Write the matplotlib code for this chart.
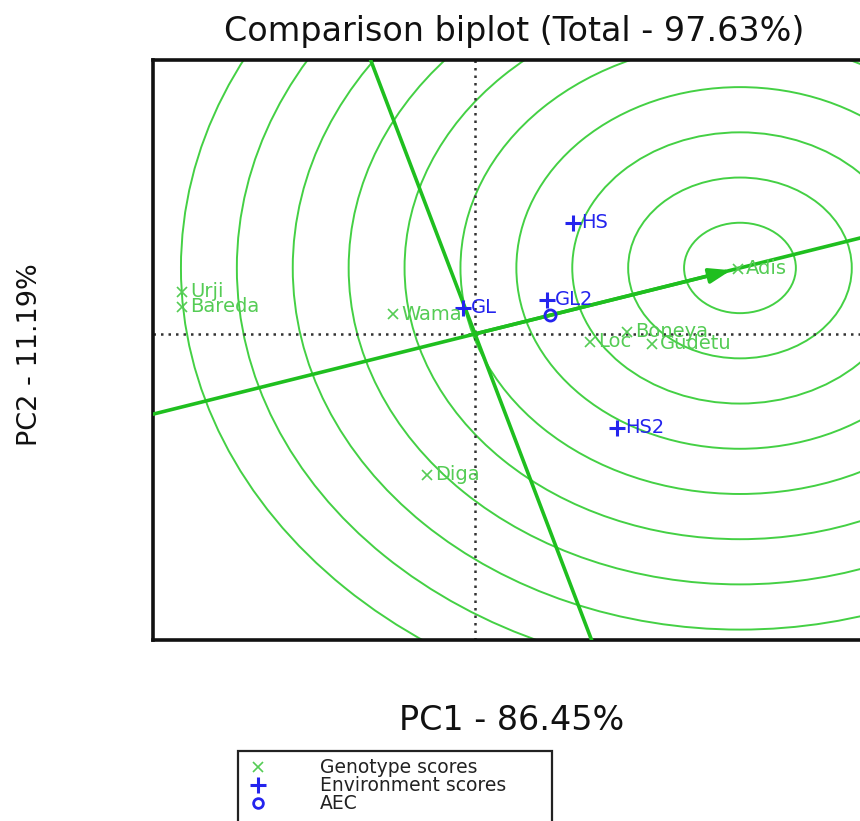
import matplotlib
matplotlib.use("Agg")
import matplotlib.pyplot as plt
from matplotlib.patches import Circle, Rectangle
from matplotlib.lines import Line2D

# ---------------- data ----------------
genotypes = ["Urji", "Bareda", "Wama", "Diga", "Loc", "Boneya", "Gudetu", "Adis"]
gen_pc1 = [-2.62, -2.62, -0.73, -0.43, 1.03, 1.36, 1.58, 2.35]
gen_pc2 = [0.465, 0.30, 0.22, -1.56, -0.088, 0.022, -0.11, 0.72]

environments = ["HS", "GL2", "GL", "HS2"]
env_pc1 = [0.877, 0.644, -0.107, 1.27]
env_pc2 = [1.228, 0.376, 0.288, -1.04]

aec_pc1 = [0.671]
aec_pc2 = [0.21]

ideal_pc1 = 2.37
ideal_pc2 = 0.73
ring_radii = [0.5, 1.0, 1.5, 2.0, 2.5, 3.0, 3.5, 4.0, 4.5, 5.0]

title = "Comparison biplot (Total - 97.63%)"
xlabel = "PC1 - 86.45%"
ylabel = "PC2 - 11.19%"
legend_labels = ["Genotype scores", "Environment scores", "AEC"]

# ---------------- figure ----------------
W, H = 860, 821
fig = plt.figure(figsize=(W / 100, H / 100), dpi=100)

def fx(px):
    return px / W

def fy(py):
    return 1 - py / H

ax_left, ax_right, ax_top, ax_bottom = 153, 870, 60, 640
ax = fig.add_axes([fx(ax_left), fy(ax_bottom), (ax_right - ax_left) / W,
                   (ax_bottom - ax_top) / H])
ax.set_xlim(-2.88, 3.533)
ax.set_ylim(-3.385, 3.03)
ax.set_xticks([])
ax.set_yticks([])
for s in ax.spines.values():
    s.set_linewidth(2.6)
    s.set_color("#111111")

ring_color = "#44d044"
line_color = "#1fbf1f"
label_green = "#55cc55"
blue = "#2424ee"

# concentric circles around the ideal genotype
for r in ring_radii:
    ax.add_patch(Circle((ideal_pc1, ideal_pc2), r, fill=False,
                        edgecolor=ring_color, lw=1.4, zorder=1))

# reference dotted axes
ax.axhline(0, color="#333333", ls=(0, (1, 2.0)), lw=1.8, zorder=2)
ax.axvline(0, color="#333333", ls=(0, (1, 2.0)), lw=1.8, zorder=2)

# AEC abscissa and ordinate
ax.axline((0, 0), (ideal_pc1, ideal_pc2), color=line_color, lw=2.6, zorder=3)
ax.axline((0, 0), slope=-ideal_pc1 / ideal_pc2, color=line_color, lw=2.6, zorder=3)
ax.annotate("", xy=(ideal_pc1 - 0.08, ideal_pc2 - 0.025), xytext=(0, 0),
            arrowprops=dict(arrowstyle="-|>,head_length=1.3,head_width=0.45",
                            color=line_color, lw=2.6, shrinkA=0, shrinkB=0),
            zorder=3)

# genotype scores
ax.plot(gen_pc1, gen_pc2, ls="none", marker="x", ms=7, mew=1.2,
        color=label_green, zorder=4)
for name, x, y in zip(genotypes, gen_pc1, gen_pc2):
    ax.annotate(name, (x, y), xytext=(6, 0), textcoords="offset points",
                ha="left", va="center", fontsize=14, color=label_green,
                zorder=5)

# environment scores
ax.plot(env_pc1, env_pc2, ls="none", marker="+", ms=12, mew=2.2,
        color=blue, zorder=4)
for name, x, y in zip(environments, env_pc1, env_pc2):
    ax.annotate(name, (x, y), xytext=(6, 0), textcoords="offset points",
                ha="left", va="center", fontsize=14, color=blue, zorder=5)

# AEC point
ax.plot(aec_pc1, aec_pc2, ls="none", marker="o", ms=8, mew=2,
        mfc="none", color=blue, zorder=4)

# ---------------- texts ----------------
fig.text(fx(514), fy(31), title, ha="center", va="center", fontsize=24,
         color="#111111")
fig.text(fx(512), fy(720), xlabel, ha="center", va="center", fontsize=24,
         color="#111111")
fig.text(fx(30), fy(355), ylabel, ha="center", va="center", fontsize=19.5,
         rotation=90, color="#111111")

# ---------------- legend (manual) ----------------
fig.add_artist(Rectangle((fx(238), fy(860)), (552 - 238) / W, (860 - 751) / H,
                         transform=fig.transFigure, fill=False,
                         edgecolor="#222222", lw=1.6))
leg_y = [767, 785, 803]
leg_markers = [("x", label_green, 7, 1.2, label_green),
               ("+", blue, 11, 2.2, blue),
               ("o", blue, 7, 2.0, "none")]
for lab, yy, (mk, col, ms, mew, mfc) in zip(legend_labels, leg_y, leg_markers):
    fig.add_artist(Line2D([fx(258)], [fy(yy)], transform=fig.transFigure,
                          marker=mk, color=col, ms=ms, mew=mew, mfc=mfc,
                          ls="none"))
    fig.text(fx(320), fy(yy), lab, ha="left", va="center", fontsize=13.5,
             color="#222222")

fig.savefig("out.png", dpi=100)
